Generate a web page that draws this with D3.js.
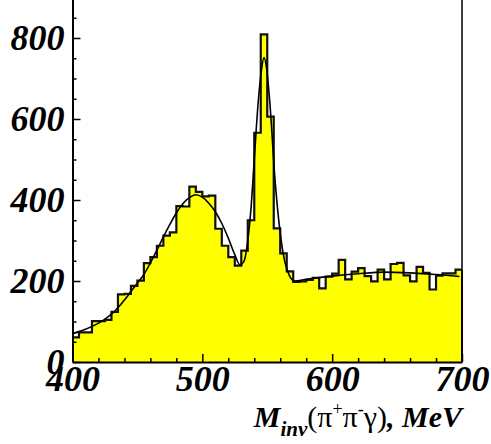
<!DOCTYPE html>
<html>
<head>
<meta charset="utf-8">
<script src="https://cdn.jsdelivr.net/npm/d3@7"></script>
<style>
  body { margin: 0; background: #fff; }
  svg { display: block; }
</style>
</head>
<body>
<script>
// histogram: 5 MeV bins from 400 to 700
var binStart = 400;
var binWidth = 5;
var counts = [61, 73, 73, 101, 101, 104, 124, 167, 168, 188,
              201, 244, 259, 287, 312, 320, 385, 384, 433, 420,
              409, 411, 329, 287, 259, 238, 275, 350, 566, 809,
              606, 330, 268, 224, 198, 199, 203, 208, 182, 211,
              218, 252, 204, 223, 232, 212, 199, 228, 204, 242,
              245, 214, 199, 235, 220, 179, 213, 219, 219, 228];

// fit curve
var fitMass = [400, 405, 410, 415, 420, 425, 430, 435, 440, 445,
               450, 455, 460, 465, 470, 475, 480, 485, 490, 495,
               500, 505, 510, 515, 520, 525, 529, 532, 535, 537.5,
               540, 543, 545.5, 547.5, 549.5, 552, 556, 560, 563.5, 567,
               571, 580, 600, 620, 640, 660, 680, 698];
var fitValue = [70, 75, 81, 88, 96, 106, 118, 134, 153, 174,
                195, 216, 245, 276, 309, 340, 368, 391, 406, 413,
                407, 392, 371, 342, 306, 265, 240, 248, 300, 380,
                500, 640, 720, 752, 725, 640, 449, 318, 248, 214,
                200, 204, 212, 218, 222, 220, 216, 211];

var xMajor = [400, 500, 600, 700];
var xMinor = [420, 440, 460, 480, 520, 540, 560, 580, 620, 640, 660, 680];
var yMajor = [0, 200, 400, 600, 800];
var yMinor = [50, 100, 150, 250, 300, 350, 450, 500, 550, 650, 700, 750, 850, 900];

var W = 491, H = 444;
var font = "'Liberation Serif', 'Times New Roman', serif";

var svg = d3.select("body").append("svg")
    .attr("width", W)
    .attr("height", H);

var x = d3.scaleLinear().domain([400, 700]).range([72.5, 462]);
var y = d3.scaleLinear().domain([0, 950]).range([362, 362 - 950 * 0.405]);

var hist = counts.map(function(c, i) { return [binStart + i * binWidth, c]; });
hist.push([binStart + counts.length * binWidth, counts[counts.length - 1]]);

var area = d3.area()
    .x(function(d) { return x(d[0]); })
    .y0(y(0))
    .y1(function(d) { return y(d[1]); })
    .curve(d3.curveStepAfter);

var line = d3.line()
    .x(function(d) { return x(d[0]); })
    .y(function(d) { return y(d[1]); })
    .curve(d3.curveStepAfter);

svg.append("path")
    .attr("d", area(hist))
    .attr("fill", "#ffff00");

svg.append("path")
    .attr("d", line(hist))
    .attr("fill", "none")
    .attr("stroke", "#111")
    .attr("stroke-width", 2.2);

// right edge of last bin
svg.append("line")
    .attr("x1", x(700)).attr("x2", x(700))
    .attr("y1", y(counts[counts.length - 1])).attr("y2", y(0))
    .attr("stroke", "#111").attr("stroke-width", 2);

var fit = fitMass.map(function(m, i) { return [m, fitValue[i]]; });
svg.append("path")
    .attr("d", d3.line()
        .x(function(d) { return x(d[0]); })
        .y(function(d) { return y(d[1]); })
        .curve(d3.curveMonotoneX)(fit))
    .attr("fill", "none")
    .attr("stroke", "#000")
    .attr("stroke-width", 1.6);

// frame: right border
svg.append("line")
    .attr("x1", x(700)).attr("x2", x(700))
    .attr("y1", y(950)).attr("y2", y(0))
    .attr("stroke", "#000").attr("stroke-width", 1.5);

// axes
var xAxis = svg.append("g")
    .attr("transform", "translate(0," + y(0) + ")")
    .call(d3.axisBottom(x).tickValues(xMajor).tickSizeInner(-8).tickSizeOuter(0).tickPadding(3)
        .tickFormat(d3.format("d")));
svg.append("g")
    .attr("transform", "translate(0," + y(0) + ")")
    .call(d3.axisBottom(x).tickValues(xMinor).tickSizeInner(-4).tickSizeOuter(0).tickFormat(""))
    .select(".domain").remove();

var yAxis = svg.append("g")
    .attr("transform", "translate(" + x(400) + ",0)")
    .call(d3.axisLeft(y).tickValues(yMajor).tickSizeInner(-8).tickSizeOuter(0).tickPadding(8)
        .tickFormat(d3.format("d")));
svg.append("g")
    .attr("transform", "translate(" + x(400) + ",0)")
    .call(d3.axisLeft(y).tickValues(yMinor).tickSizeInner(-4).tickSizeOuter(0).tickFormat(""))
    .select(".domain").remove();

svg.selectAll(".domain").attr("stroke", "#000").attr("stroke-width", 2);
svg.selectAll(".tick line").attr("stroke", "#000").attr("stroke-width", 1.5);
svg.selectAll(".tick text")
    .attr("fill", "#000")
    .style("font-family", font)
    .style("font-size", "36px")
    .style("font-weight", "bold")
    .style("font-style", "italic");

// axis title
var title = svg.append("text")
    .attr("x", 462)
    .attr("y", 427)
    .attr("text-anchor", "end")
    .style("font-family", font)
    .style("font-size", "30px")
    .attr("fill", "#000");

title.append("tspan").text("M").style("font-weight", "bold").style("font-style", "italic");
title.append("tspan").text("inv").attr("dy", 9).style("font-size", "21px")
    .style("font-weight", "bold").style("font-style", "italic");
title.append("tspan").text("(π").attr("dy", -9);
title.append("tspan").text("+").attr("dy", -12).style("font-size", "18px");
title.append("tspan").text("π").attr("dy", 12);
title.append("tspan").text("-").attr("dy", -12).style("font-size", "18px");
title.append("tspan").text("γ)").attr("dy", 12);
title.append("tspan").text(", MeV").style("font-weight", "bold").style("font-style", "italic");
</script>
</body>
</html>
